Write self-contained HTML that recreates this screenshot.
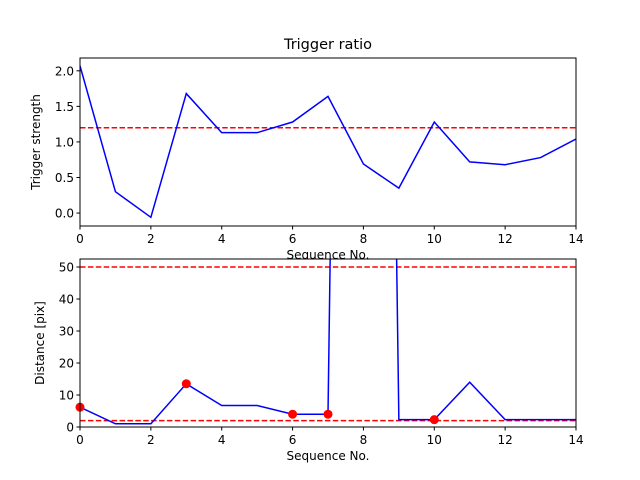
<!DOCTYPE html>
<html><head><meta charset="utf-8"><style>
body{margin:0;background:#fff}
svg{display:block;font-family:"DejaVu Sans","Liberation Sans",sans-serif}
</style></head><body>
<svg id="c" width="640" height="480" xmlns="http://www.w3.org/2000/svg"></svg>
<script>
const seq = [0,1,2,3,4,5,6,7,8,9,10,11,12,13,14];
const strength = [2.07,0.30,-0.06,1.68,1.13,1.13,1.28,1.64,0.69,0.35,1.28,0.72,0.68,0.78,1.04];
const strengthThreshold = [1.2];
const distance = [6.2,1,1,13.5,6.7,6.7,4,4,800,2.3,2.3,14,2.3,2.3,2.3];
const distanceThresholds = [2,50];
const flaggedIdx = [0,3,6,7,10];
const xTicks = [0,2,4,6,8,10,12,14];
const topYTicks = [0,0.5,1.0,1.5,2.0];
const botYTicks = [0,10,20,30,40,50];

const NS="http://www.w3.org/2000/svg";
const svg=document.getElementById('c');
function mk(t,a,p){const e=document.createElementNS(NS,t);for(const k in a)e.setAttribute(k,a[k]);(p||svg).appendChild(e);return e;}
const L=80,R=576;
const xs=v=>L+(v-0)/(14-0)*(R-L);

function panel(o){
  const g=mk('g',{});
  
  
  mk('rect',{x:L,y:o.top,width:R-L,height:o.bot-o.top,fill:'#fff'},g);
  const ys=v=>o.bot-(v-o.ymin)/(o.ymax-o.ymin)*(o.bot-o.top);
  const cp='clip'+o.name;
  const d=mk('clipPath',{id:cp},g);mk('rect',{x:L,y:o.top,width:R-L,height:o.bot-o.top},d);
  const pl=mk('g',{'clip-path':'url(#'+cp+')'},g);
  o.th.forEach(t=>{const ln=mk('line',{x1:L,x2:R,y1:ys(t),y2:ys(t),stroke:'#ff0000','stroke-width':1.5,'stroke-dasharray':'5.5,2.4'},pl);
    
    });
  const pts=seq.map((s,i)=>xs(s)+','+ys(o.data[i])).join(' ');
  const pl2=mk('polyline',{points:pts,fill:'none',stroke:'#0000ff','stroke-width':1.5},pl);
  
  
  if(o.dots) o.dots.forEach(i=>{const c=mk('circle',{cx:xs(seq[i]),cy:ys(o.data[i]),r:4.5,fill:'#ff0000'},g);
    
    });
  mk('rect',{x:L,y:o.top,width:R-L,height:o.bot-o.top,fill:'none',stroke:'#000','stroke-width':1},g);
  xTicks.forEach(t=>{mk('line',{x1:xs(t),x2:xs(t),y1:o.bot,y2:o.bot+3.5,stroke:'#000'},g);
    const tx=mk('text',{x:xs(t),y:o.bot+17,'font-size':12,'text-anchor':'middle'},g);tx.textContent=t;
    
    });
  o.yt.forEach(t=>{mk('line',{x1:L,x2:L-3.5,y1:ys(t),y2:ys(t),stroke:'#000'},g);
    const tx=mk('text',{x:L-6,y:ys(t)+4.5,'font-size':12,'text-anchor':'end'},g);tx.textContent=o.fmt(t);
    
    });
  const yl=mk('text',{x:0,y:0,'font-size':12,'text-anchor':'middle',transform:`translate(${o.ylx},${(o.top+o.bot)/2}) rotate(-90)`},g);
  yl.textContent=o.ylabel;
  
  
  const xl=mk('text',{x:(L+R)/2,y:o.bot+33,'font-size':12,'text-anchor':'middle'},g);
  xl.textContent='Sequence No.';
  
  
}
const title=mk('text',{x:328,y:49,'font-size':14.5,'text-anchor':'middle'});
title.textContent='Trigger ratio';


panel({name:'strength-panel',top:58,bot:226,ymin:-0.182,ymax:2.18,data:strength,th:strengthThreshold,yt:topYTicks,fmt:t=>t.toFixed(1),ylabel:'Trigger strength',ylx:40});
panel({name:'distance-panel',top:259,bot:427,ymin:0,ymax:52.5,data:distance,th:distanceThresholds,yt:botYTicks,fmt:t=>t,ylabel:'Distance [pix]',ylx:44,dots:flaggedIdx});
</script>
</body></html>
